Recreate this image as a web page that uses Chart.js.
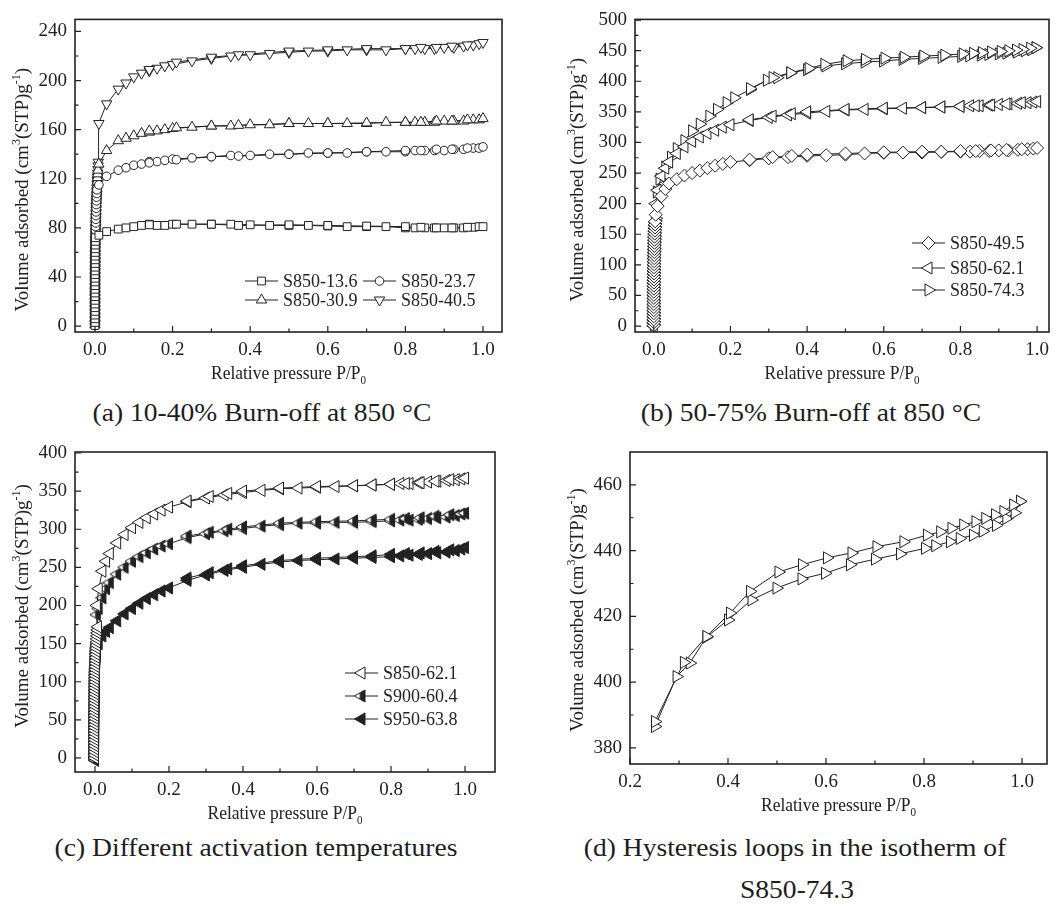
<!DOCTYPE html>
<html>
<head>
<meta charset="utf-8">
<script src="https://cdn.jsdelivr.net/npm/chart.js@4.4.0/dist/chart.umd.min.js"></script>
<style>
  html, body { margin: 0; padding: 0; background: #fff; }
  #page { position: relative; width: 1057px; height: 906px; overflow: hidden;
          font-family: "Liberation Serif", "Times New Roman", serif; color: #1e1e1e; }
  canvas { position: absolute; }
  .cap { position: absolute; font-size: 26px; line-height: 30px; text-align: center;
         white-space: nowrap; transform: scaleX(1.06); }
</style>
</head>
<body>
<div id="page">
  <canvas id="chartA" width="530" height="395" style="left:0;top:0"></canvas>
  <canvas id="chartB" width="527" height="395" style="left:530px;top:0"></canvas>
  <canvas id="chartC" width="530" height="400" style="left:0;top:430px"></canvas>
  <canvas id="chartD" width="527" height="400" style="left:530px;top:430px"></canvas>

  <div class="cap" style="left:62px;width:400px;top:398px">(a) 10-40% Burn-off at 850 °C</div>
  <div class="cap" style="left:611px;width:400px;top:398px">(b) 50-75% Burn-off at 850 °C</div>
  <div class="cap" style="left:36px;width:440px;top:833px">(c) Different activation temperatures</div>
  <div class="cap" style="left:555px;width:480px;top:833px">(d) Hysteresis loops in the isotherm of</div>
  <div class="cap" style="left:697px;width:200px;top:875px">S850-74.3</div>
</div>

<script>
const INK = "#222";
const FONT = '"Liberation Serif", "Times New Roman", serif';

// ---- tick labels ----
const xTicks = [0, 0.2, 0.4, 0.6, 0.8, 1.0];
const xTicksD = [0.2, 0.4, 0.6, 0.8, 1.0];
const yTicksA = [0, 40, 80, 120, 160, 200, 240];
const yTicksB = [0, 50, 100, 150, 200, 250, 300, 350, 400, 450, 500];
const yTicksC = [0, 50, 100, 150, 200, 250, 300, 350, 400];
const yTicksD = [380, 400, 420, 440, 460];

// near-zero relative pressures of the micropore-filling steps (all plot at x ~ 0)
const pLow = [0.00001, 0.00002, 0.00003, 0.00004, 0.00005, 0.00006, 0.00008, 0.0001, 0.00012, 0.00014, 0.00017, 0.0002,
  0.00023, 0.00027, 0.00031, 0.00036, 0.00042, 0.00048, 0.00055, 0.00063, 0.00072, 0.00082, 0.00093, 0.00105, 0.0012,
  0.00135, 0.0015, 0.0017, 0.0019, 0.0021, 0.0024, 0.0027, 0.003, 0.0033, 0.0037, 0.0041, 0.0045, 0.005, 0.0055, 0.006,
  0.0065, 0.007, 0.0075, 0.008, 0.0085, 0.009];

// ---- (a) 10-40% burn-off ----
const colA136 = [0.5, 3, 6, 9, 12, 15, 18, 21, 24, 27, 30, 33, 36, 39, 42, 45, 48, 51, 54, 57, 60, 63, 66, 69, 72];
const colA237 = [0.5, 3, 6, 9, 12, 15, 18, 21, 24, 27, 30, 33, 36, 39, 42, 45, 48, 51, 54, 57, 60, 63, 66, 69, 72,
  75, 78, 81, 84, 87, 90, 93, 96, 99, 102, 105, 108, 111];
const colA309 = [1, 4, 7, 10, 13, 16, 19, 22, 25, 28, 31, 34, 37, 40, 43, 46, 49, 52, 55, 58, 61, 64, 67, 70, 73,
  76, 79, 82, 85, 88, 91, 94, 97, 100, 103, 106, 109, 112, 115, 118, 121, 124, 127];
const colA405 = [1.5, 4.5, 7.5, 10.5, 13.5, 16.5, 19.5, 22.5, 25.5, 28.5, 31.5, 34.5, 37.5, 40.5, 43.5, 46.5, 49.5,
  52.5, 55.5, 58.5, 61.5, 64.5, 67.5, 70.5, 73.5, 76.5, 79.5, 82.5, 85.5, 88.5, 91.5, 94.5, 97.5, 100.5, 103.5, 106.5,
  109.5, 112.5, 115.5, 118.5, 121.5, 124.5, 127.5, 130.5, 133.5];
// adsorption then desorption
const pA = [0.01, 0.03, 0.06, 0.08, 0.1, 0.12, 0.14, 0.16, 0.18, 0.2, 0.25, 0.3, 0.35, 0.4, 0.45, 0.5, 0.55, 0.6, 0.65, 0.7,
  0.75, 0.8, 0.825, 0.85, 0.875, 0.9, 0.925, 0.95, 0.975, 0.99,
  1.0, 0.96, 0.92, 0.88, 0.84, 0.8, 0.7, 0.6, 0.5, 0.37, 0.3, 0.21, 0.14];
const vA136 = [74, 77, 79, 80, 81, 82, 83, 82, 82, 83, 83, 83, 83, 82.5, 82, 82, 82, 81.5, 81, 81,
  81, 80, 80, 80, 80, 80, 80, 80, 80.5, 81,
  81, 80.5, 80, 80, 80.5, 81, 81.5, 82, 82.5, 82, 83, 83, 82.5];
const vA237 = [115, 122, 127, 129, 131, 132, 134, 134, 135, 136, 137, 138, 139, 139, 140, 140, 141, 141, 141, 142,
  142, 142, 143, 143, 143, 143, 144, 144, 145, 145,
  146, 145, 144, 144, 143, 143, 142, 141, 140, 138.5, 138, 135.5, 133];
const vA309 = [132, 143, 151, 153, 155, 157, 158, 159, 160, 161, 162, 163, 163, 164, 164, 165, 165, 165, 165, 165,
  166, 166, 166, 166, 166, 167, 167, 167, 168, 168,
  169, 168, 167, 167, 166, 166, 165.5, 165, 165, 163.5, 163, 161.5, 159];
const vA405 = [165, 181, 193, 198, 203, 206, 208, 210, 212, 213, 216, 218, 220, 221, 222, 223, 224, 224, 225, 225,
  225, 226, 226, 226, 226, 227, 227, 228, 229, 230,
  231, 229, 228, 227, 227, 226, 226, 225, 224, 221, 219, 215, 209];

// ---- (b) 50-75% burn-off, (c) activation temperatures ----
const colB495 = [1, 6, 11, 16, 21, 26, 31, 36, 41, 46, 51, 56, 61, 66, 71, 76, 81, 86, 91, 96, 101, 106, 111, 116,
  121, 126, 131, 136, 141, 146, 151, 156, 161, 166, 171];
const colB621 = [0, 5, 10, 15, 20, 25, 30, 35, 40, 45, 50, 55, 60, 65, 70, 75, 80, 85, 90, 95, 100, 105, 110, 115,
  120, 125, 130, 135, 140, 145, 150, 155, 160, 165, 170];
const colB743 = [2, 7, 12, 17, 22, 27, 32, 37, 42, 47, 52, 57, 62, 67, 72, 77, 82, 87, 92, 97, 102, 107, 112, 117,
  122, 127, 132, 137, 142, 147, 152, 157, 162, 167, 172];
const colC621 = [0, 4, 8, 12, 16, 20, 24, 28, 32, 36, 40, 44, 48, 52, 56, 60, 64, 68, 72, 76, 80, 84, 88, 92, 96,
  100, 104, 108, 112, 116, 120, 124, 128, 132, 136, 140, 144, 148, 152, 156, 160, 164, 168, 172];
const colC604 = [-2, 2, 6, 10, 14, 18, 22, 26, 30, 34, 38, 42, 46, 50, 54, 58, 62, 66, 70, 74, 78, 82, 86, 90, 94,
  98, 102, 106, 110, 114, 118, 122, 126, 130, 134, 138, 142, 146, 150];
const colC638 = [-3, 1, 5, 9, 13, 17, 21, 25, 29, 33, 37, 41, 45, 49, 53, 57, 61, 65, 69, 73, 77, 81, 85, 89, 93,
  97, 101, 105, 109, 113, 117, 121, 125, 129, 133, 137, 141];
const pB = [0.005, 0.01, 0.02, 0.03, 0.04, 0.06, 0.08, 0.1, 0.12, 0.14, 0.16, 0.18, 0.2, 0.25, 0.3, 0.35, 0.4, 0.45, 0.5, 0.55,
  0.6, 0.65, 0.7, 0.75, 0.8, 0.825, 0.85, 0.875, 0.9, 0.925, 0.95, 0.975, 0.99,
  1.0, 0.96, 0.92, 0.88, 0.84, 0.8, 0.75, 0.7, 0.6, 0.5, 0.4, 0.36, 0.31, 0.25];
const vB495 = [182, 196, 212, 224, 233, 240, 246, 250, 254, 258, 262, 265, 268, 271, 274, 276, 278, 279, 280, 282,
  283, 283.5, 283.5, 284.5, 285, 285, 286, 286, 287, 287, 288, 289, 290,
  291, 289, 288, 287, 286, 286, 285, 285, 284, 282, 280, 278, 276, 272];
const vB621 = [200, 222, 245, 258, 268, 282, 293, 302, 309, 315, 320, 325, 329, 336, 341, 345, 348, 351, 353, 354,
  355, 356, 357, 358, 359, 360, 360, 361, 362, 363, 364, 365, 366,
  367, 365, 363, 361, 360, 359, 358, 357, 356, 354, 350, 347, 343, 337];
const vC604 = [188, 196, 210, 222, 230, 241, 250, 258, 264, 269, 274, 278, 281, 289, 294, 298, 301, 304, 306, 308,
  308, 309, 309, 310, 311, 312, 312, 313, 314, 315, 316, 318, 320,
  321, 319, 317, 315, 314, 313, 312, 311, 310, 308, 303, 300, 296, 291];
const vC638 = [144, 150, 160, 166, 171, 180, 189, 196, 203, 209, 214, 219, 223, 233, 240, 246, 250, 254, 257, 259,
  260, 261, 262, 263, 264, 265, 266, 267, 268, 269, 270, 272, 274,
  276, 273, 271, 269, 268, 267, 265, 264, 262, 259, 252, 248, 243, 236];
// S850-74.3 below P/P0 = 0.25
const pB743 = [0.005, 0.008, 0.015, 0.03, 0.045, 0.06, 0.08, 0.1, 0.12, 0.145, 0.165, 0.19, 0.21];
const vB743 = [176, 219, 240, 260, 276, 290, 303, 319, 330, 343, 354, 365, 373];

// ---- (d) hysteresis of S850-74.3 ----
const pDAds = [0.251, 0.295, 0.322, 0.356, 0.40, 0.448, 0.499, 0.55, 0.598, 0.649, 0.70, 0.751, 0.802, 0.823, 0.853, 0.873,
  0.90, 0.92, 0.947, 0.968, 0.985, 0.996];
const vDAds = [386.5, 401.7, 405.8, 413.7, 418.9, 425.0, 428.6, 431.4, 433.1, 435.7, 437.4, 439.0, 440.7, 441.5, 442.7, 443.7,
  444.7, 445.9, 447.7, 449.8, 451.5, 455.0];
const pDDes = [0.996, 0.982, 0.962, 0.945, 0.925, 0.905, 0.88, 0.856, 0.833, 0.806, 0.758, 0.703, 0.652, 0.602, 0.551, 0.503,
  0.445, 0.404, 0.356, 0.31, 0.251];
const vDDes = [455.0, 453.9, 451.9, 450.9, 449.8, 448.8, 447.8, 446.8, 445.7, 444.7, 442.7, 441.2, 439.3, 437.8, 435.7, 433.5,
  427.6, 421.0, 413.9, 406.0, 388.0];

// zip x/y lists into points; shorter list decides the length
function pts(xs, ys) {
  const n = Math.min(xs.length, ys.length);
  const out = [];
  for (let i = 0; i < n; i++) out.push({ x: xs[i], y: ys[i] });
  return out;
}

function halfTriangle(r) {
  const s = Math.ceil(2 * r + 4);
  const c = document.createElement("canvas");
  c.width = s; c.height = s;
  const g = c.getContext("2d");
  const cx = s / 2, cy = s / 2, h = r * Math.sin(Math.PI / 3);
  const path = () => {
    g.beginPath();
    g.moveTo(cx - r, cy); g.lineTo(cx + r / 2, cy - h); g.lineTo(cx + r / 2, cy + h);
    g.closePath();
  };
  path(); g.fillStyle = "#fff"; g.fill();
  g.save(); path(); g.clip(); g.fillStyle = INK; g.fillRect(cx - r * 0.25, 0, s, s); g.restore();
  path(); g.strokeStyle = INK; g.lineWidth = 1; g.stroke();
  return c;
}

function ds(label, data, style) {
  return Object.assign({
    label, data, showLine: true, tension: 0,
    borderColor: INK, borderWidth: 1,
    pointBorderColor: INK, pointBackgroundColor: "#fff", pointBorderWidth: 1,
    pointRadius: 5, pointHoverRadius: 5, pointRotation: 0
  }, style);
}

// rich text: parts = [[text, ""|"sub"|"sup"], ...]
function drawRich(ctx, parts, cx, cy, size, sx, rotate) {
  const small = Math.round(size * 0.62);
  let w = 0;
  parts.forEach(([t, k]) => { ctx.font = (k ? small : size) + "px " + FONT; w += ctx.measureText(t).width; });
  ctx.save();
  ctx.translate(cx, cy);
  if (rotate) ctx.rotate(-Math.PI / 2);
  ctx.scale(sx, 1);
  ctx.fillStyle = INK;
  ctx.textAlign = "left";
  ctx.textBaseline = "alphabetic";
  let x = -w / 2;
  parts.forEach(([t, k]) => {
    ctx.font = (k ? small : size) + "px " + FONT;
    const dy = k === "sub" ? size * 0.25 : k === "sup" ? -size * 0.42 : 0;
    ctx.fillText(t, x, size * 0.33 + dy);
    x += ctx.measureText(t).width;
  });
  ctx.restore();
}

const X_TITLE = [["Relative pressure P/P", ""], ["0", "sub"]];
const Y_TITLE = [["Volume adsorbed (cm", ""], ["3", "sup"], ["(STP)g", ""], ["-1", "sup"], [")", ""]];

function minorsOf(vals, lo, hi) {
  const step = vals[1] - vals[0];
  const out = [vals[0] - step / 2];
  for (let i = 0; i < vals.length - 1; i++) out.push((vals[i] + vals[i + 1]) / 2);
  out.push(vals[vals.length - 1] + step / 2);
  return out.filter(v => v > lo && v < hi);
}

const framePlugin = {
  id: "frame",
  afterDraw(chart, _args, o) {
    const { ctx, chartArea: a } = chart;
    const xs = chart.scales.x, ys = chart.scales.y;
    ctx.save();
    ctx.strokeStyle = INK;
    ctx.lineWidth = 1.2;
    const xMaj = xs.ticks.map(t => t.value);
    const yMaj = ys.ticks.map(t => t.value);
    ctx.beginPath();
    xMaj.forEach(v => { const p = xs.getPixelForValue(v); ctx.moveTo(p, a.bottom); ctx.lineTo(p, a.bottom - 6); });
    minorsOf(xMaj, xs.min, xs.max).forEach(v => { const p = xs.getPixelForValue(v); ctx.moveTo(p, a.bottom); ctx.lineTo(p, a.bottom - 3.5); });
    yMaj.forEach(v => { const p = ys.getPixelForValue(v); ctx.moveTo(a.left, p); ctx.lineTo(a.left + 6, p); });
    minorsOf(yMaj, ys.min, ys.max).forEach(v => { const p = ys.getPixelForValue(v); ctx.moveTo(a.left, p); ctx.lineTo(a.left + 3.5, p); });
    ctx.stroke();
    ctx.lineWidth = 1.6;
    ctx.strokeRect(a.left, a.top, a.right - a.left, a.bottom - a.top);

    drawRich(ctx, X_TITLE, (a.left + a.right) / 2, a.bottom + o.xTitleDy, 19, 0.92, false);
    drawRich(ctx, Y_TITLE, a.left - o.yTitleDx, (a.top + a.bottom) / 2 + o.yTitleDy, 19, 1, true);

    // legend entries: [datasetIndex, lineStartX, y]
    (o.legend || []).forEach(([i, x, y]) => {
      const d = chart.data.datasets[i];
      ctx.strokeStyle = INK; ctx.lineWidth = 1;
      ctx.beginPath(); ctx.moveTo(x, y); ctx.lineTo(x + 33, y); ctx.stroke();
      ctx.fillStyle = d.pointBackgroundColor; ctx.strokeStyle = d.pointBorderColor; ctx.lineWidth = d.pointBorderWidth;
      Chart.helpers.drawPoint(ctx, { pointStyle: d.pointStyle, rotation: d.pointRotation, radius: d.pointRadius, borderWidth: d.pointBorderWidth }, x + 16.5, y);
      ctx.fillStyle = INK; ctx.font = "18px " + FONT; ctx.textAlign = "left"; ctx.textBaseline = "middle";
      ctx.fillText(d.label, x + 38, y + 1);
    });
    ctx.restore();
  }
};

const TICK_FONT = { family: FONT, size: 19 };

function makePanel(id, cfg) {
  return new Chart(document.getElementById(id), {
    type: "scatter",
    data: { datasets: cfg.datasets },
    options: {
      responsive: false, animation: false, devicePixelRatio: 1, events: [],
      layout: { padding: { top: cfg.pad[0], right: cfg.pad[1], bottom: 0, left: 0 } },
      plugins: { legend: { display: false }, tooltip: { enabled: false }, frame: cfg.frame },
      scales: {
        x: {
          type: "linear", min: cfg.xRange[0], max: cfg.xRange[1],
          afterBuildTicks: s => { s.ticks = cfg.xTicks.map(v => ({ value: v })); },
          afterFit: s => { s.height = cfg.xH; },
          ticks: { autoSkip: false, maxRotation: 0, padding: 7, color: INK, font: TICK_FONT, callback: v => v.toFixed(1) },
          grid: { display: false, drawTicks: false }, border: { display: false }
        },
        y: {
          type: "linear", min: cfg.yRange[0], max: cfg.yRange[1],
          afterBuildTicks: s => { s.ticks = cfg.yTicks.map(v => ({ value: v })); },
          afterFit: s => { s.width = cfg.yW; },
          ticks: { autoSkip: false, padding: 8, color: INK, font: TICK_FONT, callback: v => String(v) },
          grid: { display: false, drawTicks: false }, border: { display: false }
        }
      }
    },
    plugins: [framePlugin]
  });
}

const triUp = { pointStyle: "triangle", pointRotation: 0 };
const triDown = { pointStyle: "triangle", pointRotation: 180 };
const triLeft = { pointStyle: "triangle", pointRotation: 270 };
const triRight = { pointStyle: "triangle", pointRotation: 90 };

makePanel("chartA", {
  pad: [12, 28], yW: 75, xH: 63,
  xRange: [-0.0515, 1.049], yRange: [-4.8, 249.8], xTicks: xTicks, yTicks: yTicksA,
  frame: { xTitleDy: 41, yTitleDx: 53, yTitleDy: 14, legend: [[0, 245, 281], [1, 363, 281], [2, 245, 300], [3, 363, 300]] },
  datasets: [
    ds("S850-13.6", pts(pLow, colA136).concat(pts(pA, vA136)), { pointStyle: "rect", pointRadius: 5.5 }),
    ds("S850-23.7", pts(pLow, colA237).concat(pts(pA, vA237)), { pointStyle: "circle", pointRadius: 4.3 }),
    ds("S850-30.9", pts(pLow, colA309).concat(pts(pA, vA309)), Object.assign({ pointRadius: 6 }, triUp)),
    ds("S850-40.5", pts(pLow, colA405).concat(pts(pA, vA405)), Object.assign({ pointRadius: 6 }, triDown))
  ]
});

makePanel("chartB", {
  pad: [16, 7], yW: 105, xH: 63,
  xRange: [-0.049, 1.031], yRange: [-9.7, 501.1], xTicks: xTicks, yTicks: yTicksB,
  frame: { xTitleDy: 41, yTitleDx: 58, yTitleDy: 4, legend: [[0, 382, 243], [1, 382, 268], [2, 382, 290]] },
  datasets: [
    ds("S850-49.5", pts(pLow, colB495).concat(pts(pB, vB495)), { pointStyle: "rectRot", pointRadius: 6.5 }),
    ds("S850-62.1", pts(pLow, colB621).concat(pts(pB, vB621)), Object.assign({ pointRadius: 7 }, triLeft)),
    ds("S850-74.3", pts(pLow, colB743).concat(pts(pB743, vB743), pts(pDAds, vDAds), pts(pDDes, vDDes)),
      Object.assign({ pointRadius: 7 }, triRight))
  ]
});

makePanel("chartC", {
  pad: [22, 35], yW: 75, xH: 58,
  xRange: [-0.054, 1.081], yRange: [-18.4, 401.3], xTicks: xTicks, yTicks: yTicksC,
  frame: { xTitleDy: 41, yTitleDx: 53, yTitleDy: -6, legend: [[0, 345, 243], [1, 345, 266], [2, 345, 289]] },
  datasets: [
    ds("S850-62.1", pts(pLow, colC621).concat(pts(pB, vB621)), Object.assign({ pointRadius: 7 }, triLeft)),
    ds("S900-60.4", pts(pLow, colC604).concat(pts(pB, vC604)), { pointStyle: halfTriangle(7), pointRadius: 7 }),
    ds("S950-63.8", pts(pLow, colC638).concat(pts(pB, vC638)),
      Object.assign({ pointRadius: 7, pointBackgroundColor: INK }, triLeft))
  ]
});

makePanel("chartD", {
  pad: [22, 10], yW: 100, xH: 66,
  xRange: [0.2, 1.051], yRange: [375.1, 470.0], xTicks: xTicksD, yTicks: yTicksD,
  frame: { xTitleDy: 41, yTitleDx: 53, yTitleDy: 2, legend: [] },
  datasets: [
    ds("S850-74.3", pts(pDAds, vDAds).concat(pts(pDDes, vDDes)), Object.assign({ pointRadius: 7 }, triRight))
  ]
});
</script>
</body>
</html>
